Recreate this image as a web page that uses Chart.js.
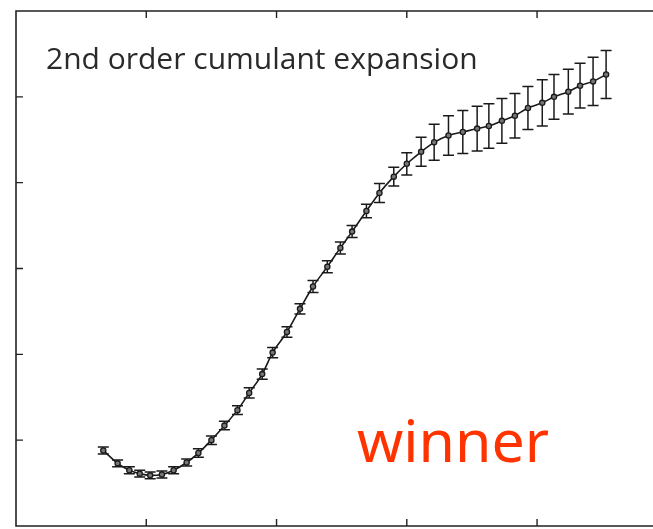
<!DOCTYPE html>
<html>
<head>
<meta charset="utf-8">
<script src="https://cdn.jsdelivr.net/npm/chart.js@4.4.1/dist/chart.umd.min.js"></script>
<style>
  html, body { margin: 0; padding: 0; background: #fff; overflow: hidden; }
  #wrap { position: relative; width: 653px; height: 529px; }
  #plot { display: block; }
  .label { position: absolute; white-space: nowrap; line-height: 1; }
  #title { left: 46px; top: 43px; font-family: "Open Sans", sans-serif; font-size: 30px; color: #2a2a2a; }
  #winner { left: 357px; top: 410px; font-family: "Comic Sans MS", "Noto Sans", sans-serif; font-size: 59px; color: #ff3300; }
</style>
</head>
<body>
<div id="wrap">
  <canvas id="plot" width="653" height="529"></canvas>
  <div class="label" id="title">2nd order cumulant expansion</div>
  <div class="label" id="winner">winner</div>
</div>
<script>
// sample positions, values and error half-widths
const xValues = [0.67, 0.78, 0.87, 0.95, 1.03, 1.12, 1.21, 1.31, 1.40, 1.50,
                 1.60, 1.70, 1.79, 1.89, 1.97, 2.08, 2.18, 2.28, 2.39, 2.49,
                 2.58, 2.69, 2.79, 2.90, 3.00, 3.11, 3.21, 3.32, 3.43, 3.54,
                 3.63, 3.73, 3.83, 3.93, 4.04, 4.13, 4.24, 4.33, 4.43, 4.53];
const yValues = [0.88, 0.73, 0.65, 0.61, 0.59, 0.60, 0.65, 0.74, 0.85, 1.00,
                 1.17, 1.35, 1.55, 1.77, 2.02, 2.26, 2.53, 2.79, 3.02, 3.24,
                 3.43, 3.67, 3.88, 4.07, 4.22, 4.36, 4.47, 4.55, 4.59, 4.63,
                 4.66, 4.72, 4.78, 4.87, 4.93, 5.00, 5.06, 5.13, 5.18, 5.26];
const yErrors = [0.04, 0.04, 0.04, 0.04, 0.04, 0.04, 0.04, 0.04, 0.05, 0.05,
                 0.05, 0.05, 0.06, 0.06, 0.06, 0.06, 0.06, 0.07, 0.07, 0.07,
                 0.07, 0.08, 0.11, 0.11, 0.13, 0.17, 0.21, 0.23, 0.25, 0.26,
                 0.26, 0.26, 0.26, 0.25, 0.27, 0.26, 0.26, 0.26, 0.28, 0.28];
const xTicks = [1, 2, 3, 4];
const yTicks = [1, 2, 3, 4, 5];

const ink = '#1a1a1a';

// left/top/bottom frame with inward tick marks
const framePlugin = {
  id: 'frame',
  afterDraw(chart) {
    const { ctx, chartArea: a, scales } = chart;
    ctx.save();
    ctx.strokeStyle = '#222';
    ctx.lineWidth = 1.6;
    ctx.beginPath();
    ctx.moveTo(a.right + 2, a.top);
    ctx.lineTo(a.left, a.top);
    ctx.lineTo(a.left, a.bottom);
    ctx.lineTo(a.right + 2, a.bottom);
    ctx.stroke();
    ctx.lineWidth = 1.4;
    ctx.beginPath();
    xTicks.forEach(v => {
      const px = scales.x.getPixelForValue(v);
      ctx.moveTo(px, a.bottom);
      ctx.lineTo(px, a.bottom - 7);
      ctx.moveTo(px, a.top);
      ctx.lineTo(px, a.top + 7);
    });
    yTicks.forEach(v => {
      const py = scales.y.getPixelForValue(v);
      ctx.moveTo(a.left, py);
      ctx.lineTo(a.left + 7, py);
    });
    ctx.stroke();
    ctx.restore();
  }
};

// vertical error bars with caps
const errorBarPlugin = {
  id: 'errorBars',
  beforeDatasetsDraw(chart) {
    const { ctx, scales } = chart;
    ctx.save();
    ctx.strokeStyle = ink;
    ctx.lineWidth = 1.5;
    ctx.beginPath();
    xValues.forEach((xv, i) => {
      const px = scales.x.getPixelForValue(xv);
      const top = scales.y.getPixelForValue(yValues[i] + yErrors[i]);
      const bot = scales.y.getPixelForValue(yValues[i] - yErrors[i]);
      ctx.moveTo(px, top);
      ctx.lineTo(px, bot);
      ctx.moveTo(px - 5.5, top);
      ctx.lineTo(px + 5.5, top);
      ctx.moveTo(px - 5.5, bot);
      ctx.lineTo(px + 5.5, bot);
    });
    ctx.stroke();
    ctx.restore();
  }
};

new Chart(document.getElementById('plot'), {
  type: 'scatter',
  data: {
    datasets: [{
      data: xValues.map((x, i) => ({ x: x, y: yValues[i] })),
      showLine: true,
      borderColor: ink,
      borderWidth: 1.6,
      cubicInterpolationMode: 'monotone',
      pointRadius: 2.6,
      pointBorderWidth: 1.3,
      pointBorderColor: ink,
      pointBackgroundColor: '#777'
    }]
  },
  options: {
    responsive: false,
    animation: false,
    layout: { autoPadding: false, padding: { left: 16, top: 11, right: 0, bottom: 3 } },
    plugins: { legend: { display: false }, tooltip: { enabled: false } },
    scales: {
      x: { type: 'linear', min: 0, max: 4.89, display: false },
      y: { type: 'linear', min: 0, max: 6, display: false }
    }
  },
  plugins: [errorBarPlugin, framePlugin]
});
</script>
</body>
</html>
